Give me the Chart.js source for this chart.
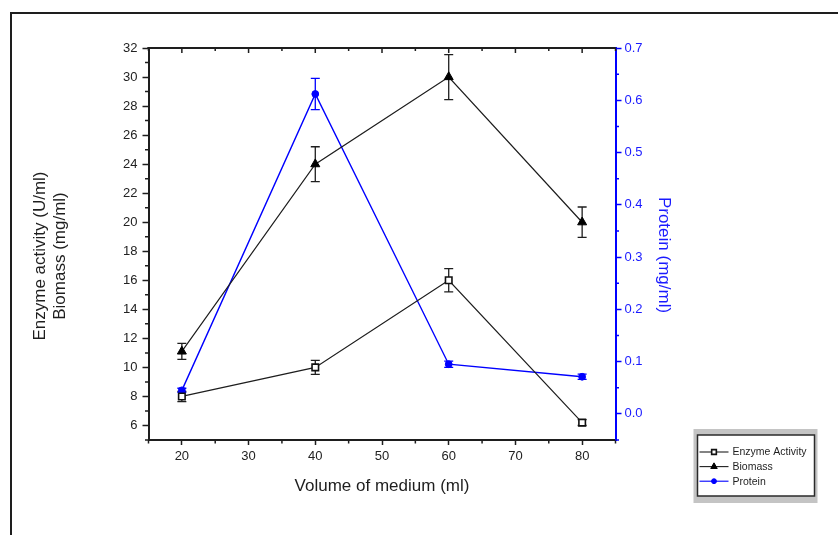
<!DOCTYPE html>
<html>
<head>
<meta charset="utf-8">
<script src="https://cdn.jsdelivr.net/npm/chart.js@4.4.1/dist/chart.umd.min.js"></script>
<style>
  html, body { margin: 0; padding: 0; background: #fff; }
  #wrap { position: relative; width: 838px; height: 535px; overflow: hidden; }
  #wrap canvas { position: absolute; left: 0; top: 0; }
  /* page frame around the figure (only top + left edges are visible) */
  #frame {
    position: absolute; left: 10px; top: 12px; width: 900px; height: 600px;
    border-top: 2px solid #1e1e1e; border-left: 2px solid #1e1e1e;
    pointer-events: none;
  }
</style>
</head>
<body>
<div id="wrap">
  <canvas id="c" width="838" height="535"></canvas>
  <div id="frame"></div>
</div>
<script>
// data
const volume = [20, 40, 60, 80];
const enzymeActivity = [8.0, 10.0, 16.0, 6.2];
const enzymeErr = [0.35, 0.48, 0.8, 0.2];
const biomass = [11.1, 24.0, 30.0, 20.0];
const biomassErr = [0.55, 1.2, 1.55, 1.05];
const protein = [0.045, 0.612, 0.095, 0.071];
const proteinErr = [0.004, 0.03, 0.006, 0.005];

// axis ticks
const xTicks = [20, 30, 40, 50, 60, 70, 80];
const xMinor = [15, 25, 35, 45, 55, 65, 75, 85];
const yLeftTicks = [6, 8, 10, 12, 14, 16, 18, 20, 22, 24, 26, 28, 30, 32];
const yLeftMinor = [5, 7, 9, 11, 13, 15, 17, 19, 21, 23, 25, 27, 29, 31];
const yRightTicks = [0, 0.1, 0.2, 0.3, 0.4, 0.5, 0.6, 0.7];
const yRightMinor = [-0.05, 0.05, 0.15, 0.25, 0.35, 0.45, 0.55, 0.65];

const xTitle = "Volume of medium (ml)";
const leftTitle = ["Enzyme activity (U/ml)", "Biomass (mg/ml)"];
const rightTitle = "Protein (mg/ml)";

const INK = "#1e1e1e";
const BLUE = "#0000ff";
const BLUE_TXT = "#1a1aff";
const FONT = '"Liberation Sans", Arial, sans-serif';

Chart.defaults.font.family = FONT;

const pts = (ys) => volume.map((v, i) => ({ x: v, y: ys[i] }));

// error bars, drawn under the markers
const errorBars = {
  id: "errorBars",
  beforeDatasetsDraw(chart) {
    const ctx = chart.ctx;
    const xs = chart.scales.x;
    const sets = [[enzymeActivity, enzymeErr], [biomass, biomassErr], [protein, proteinErr]];
    sets.forEach(([vals, errs], i) => {
      const ds = chart.data.datasets[i];
      const ys = chart.scales[ds.yAxisID];
      ctx.save();
      ctx.strokeStyle = ds.borderColor;
      ctx.lineWidth = 1.3;
      vals.forEach((v, j) => {
        const px = xs.getPixelForValue(volume[j]);
        const y1 = ys.getPixelForValue(v + errs[j]);
        const y2 = ys.getPixelForValue(v - errs[j]);
        ctx.beginPath();
        ctx.moveTo(px, y1); ctx.lineTo(px, y2);
        ctx.moveTo(px - 4.5, y1); ctx.lineTo(px + 4.5, y1);
        ctx.moveTo(px - 4.5, y2); ctx.lineTo(px + 4.5, y2);
        ctx.stroke();
      });
      ctx.restore();
    });
  },
};

// minor ticks, top axis, rotated y titles and the boxed legend
const extras = {
  id: "extras",
  afterDraw(chart) {
    const ctx = chart.ctx;
    const a = chart.chartArea;
    const xs = chart.scales.x, yl = chart.scales.yL, yr = chart.scales.yR;

    ctx.save();
    ctx.lineWidth = 1.5;
    ctx.strokeStyle = INK;
    ctx.beginPath();
    // top frame line with inward ticks
    ctx.moveTo(a.left - 1, a.top); ctx.lineTo(a.right, a.top);
    xTicks.forEach((v) => { const p = xs.getPixelForValue(v); ctx.moveTo(p, a.top); ctx.lineTo(p, a.top + 5); });
    xMinor.forEach((v) => { const p = xs.getPixelForValue(v); ctx.moveTo(p, a.top); ctx.lineTo(p, a.top + 3); });
    // bottom minor ticks
    xMinor.forEach((v) => { const p = xs.getPixelForValue(v); ctx.moveTo(p, a.bottom); ctx.lineTo(p, a.bottom + 3.5); });
    // left minor ticks
    yLeftMinor.forEach((v) => { const p = yl.getPixelForValue(v); ctx.moveTo(a.left, p); ctx.lineTo(a.left - 3.5, p); });
    ctx.stroke();
    ctx.lineWidth = 2;
    ctx.beginPath();
    ctx.moveTo(a.left - 1, a.top); ctx.lineTo(a.right, a.top);
    ctx.stroke();

    ctx.strokeStyle = BLUE;
    ctx.lineWidth = 1.5;
    ctx.beginPath();
    yRightMinor.forEach((v) => { const p = yr.getPixelForValue(v); ctx.moveTo(a.right, p); ctx.lineTo(a.right + 3.5, p); });
    ctx.stroke();

    // y axis titles
    const midY = (a.top + a.bottom) / 2 + 12;
    ctx.font = "17px " + FONT;
    ctx.textAlign = "center";
    ctx.textBaseline = "middle";
    ctx.fillStyle = INK;
    leftTitle.forEach((t, i) => {
      ctx.save();
      ctx.translate(a.left - 108 + i * 19.5, midY);
      ctx.rotate(-Math.PI / 2);
      ctx.fillText(t, 0, 0);
      ctx.restore();
    });
    ctx.fillStyle = BLUE_TXT;
    ctx.save();
    ctx.translate(a.right + 48, midY - 1);
    ctx.rotate(Math.PI / 2);
    ctx.fillText(rightTitle, 0, 0);
    ctx.restore();

    // legend box
    const lx = a.right + 78, ly = a.bottom - 11;
    ctx.fillStyle = "#c4c4c4";
    ctx.fillRect(lx, ly, 124, 74);
    ctx.fillStyle = "#fff";
    ctx.fillRect(lx + 4, ly + 6, 117, 61);
    ctx.strokeStyle = "#2a2a2a";
    ctx.lineWidth = 1.5;
    ctx.strokeRect(lx + 4, ly + 6, 117, 61);

    ctx.font = "10.5px " + FONT;
    ctx.textAlign = "left";
    chart.data.datasets.forEach((ds, i) => {
      const ry = ly + 23 + i * 14.6;
      ctx.strokeStyle = ds.borderColor;
      ctx.lineWidth = 1.1;
      ctx.beginPath();
      ctx.moveTo(lx + 6, ry); ctx.lineTo(lx + 35, ry);
      ctx.stroke();
      ctx.fillStyle = ds.pointBackgroundColor;
      ctx.strokeStyle = ds.pointBorderColor;
      ctx.lineWidth = ds.pointBorderWidth;
      Chart.helpers.drawPoint(ctx, {
        pointStyle: ds.pointStyle, rotation: 0,
        radius: ds.pointRadius * 0.72, borderWidth: ds.pointBorderWidth,
      }, lx + 20.5, ry);
      ctx.fillStyle = INK;
      ctx.fillText(ds.label, lx + 39, ry + 0.5);
    });
    ctx.restore();
  },
};

new Chart(document.getElementById("c"), {
  type: "line",
  data: {
    datasets: [
      {
        label: "Enzyme Activity",
        data: pts(enzymeActivity),
        yAxisID: "yL",
        borderColor: INK,
        borderWidth: 1.2,
        pointStyle: "rect",
        pointRadius: 4.6,
        pointBackgroundColor: "#fff",
        pointBorderColor: "#111",
        pointBorderWidth: 1.6,
      },
      {
        label: "Biomass",
        data: pts(biomass),
        yAxisID: "yL",
        borderColor: INK,
        borderWidth: 1.2,
        pointStyle: "triangle",
        pointRadius: 5.2,
        pointBackgroundColor: "#000",
        pointBorderColor: "#000",
        pointBorderWidth: 1,
      },
      {
        label: "Protein",
        data: pts(protein),
        yAxisID: "yR",
        borderColor: BLUE,
        borderWidth: 1.4,
        pointStyle: "circle",
        pointRadius: 3.4,
        pointBackgroundColor: BLUE,
        pointBorderColor: BLUE,
        pointBorderWidth: 1,
      },
    ],
  },
  options: {
    responsive: false,
    animation: false,
    layout: { padding: { top: 48, left: 0, right: 0, bottom: 0 } },
    elements: { line: { tension: 0 } },
    plugins: { legend: { display: false }, tooltip: { enabled: false } },
    scales: {
      x: {
        type: "linear",
        min: 15,
        max: 85,
        afterFit: (s) => { s.height = 95; },
        afterBuildTicks: (s) => { s.ticks = xTicks.map((v) => ({ value: v })); },
        border: { color: INK, width: 2 },
        grid: { drawOnChartArea: false, tickLength: 5, tickColor: INK, tickWidth: 1.5 },
        ticks: { color: "#222", font: { size: 13 }, padding: 4, maxRotation: 0 },
        title: {
          display: true,
          text: xTitle,
          color: INK,
          font: { size: 17 },
          padding: { top: 0, bottom: 38 },
        },
      },
      yL: {
        type: "linear",
        position: "left",
        min: 5,
        max: 32,
        afterFit: (s) => { s.width = 148.5; },
        afterBuildTicks: (s) => { s.ticks = yLeftTicks.map((v) => ({ value: v })); },
        border: { color: INK, width: 2 },
        grid: { drawOnChartArea: false, tickLength: 6, tickColor: INK, tickWidth: 1.5 },
        ticks: { color: "#222", font: { size: 13 }, padding: 5 },
      },
      yR: {
        type: "linear",
        position: "right",
        min: -0.05,
        max: 0.7,
        afterFit: (s) => { s.width = 222.5; },
        afterBuildTicks: (s) => { s.ticks = yRightTicks.map((v) => ({ value: v })); },
        border: { color: BLUE, width: 2 },
        grid: { drawOnChartArea: false, tickLength: 6, tickColor: BLUE, tickWidth: 1.5 },
        ticks: {
          color: BLUE_TXT,
          font: { size: 13 },
          padding: 3,
          callback: (v) => Number(v).toFixed(1),
        },
      },
    },
  },
  plugins: [errorBars, extras],
});
</script>
</body>
</html>
